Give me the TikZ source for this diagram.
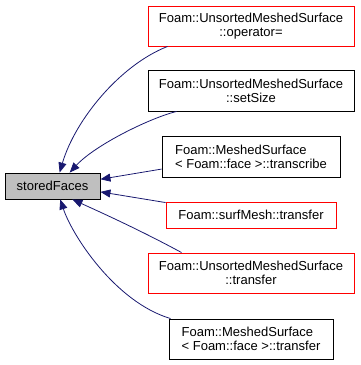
\documentclass[tikz,border=0pt]{standalone}
\usepackage{fontspec}
\setmainfont{Liberation Sans}
\usetikzlibrary{arrows.meta}
\definecolor{calledge}{HTML}{191970}
\definecolor{morered}{HTML}{FF0000}

\begin{document}
\begin{tikzpicture}[x=1pt,y=-1pt,
    fbox/.style={draw=black,line width=0.9pt,inner sep=0pt,font=\fontsize{13}{14}\selectfont},
    redbox/.style={fbox,draw=morered},
    caller/.style={draw=calledge,line width=0.8pt,-{Triangle[length=10pt,width=8pt]},fill=none}]
  \useasboundingbox (0,0) rectangle (360,365);
  \node[fbox,fill=gray!50,minimum width=95pt,minimum height=26pt] (stored) at (52.5,186) {storedFaces};
  \node[redbox,align=center,minimum width=206pt,minimum height=40pt] (op) at (251,26)
      {Foam::UnsortedMeshedSurface\\::operator=};
  \node[fbox,align=center,minimum width=206pt,minimum height=41pt] (setsize) at (251,90.5)
      {Foam::UnsortedMeshedSurface\\::setSize};
  \node[fbox,align=left,minimum width=178pt,minimum height=41pt] (transcribe) at (251,156.5)
      {Foam::MeshedSurface\\< Foam::face >::transcribe};
  \node[redbox,minimum width=170pt,minimum height=26pt] (surfmesh) at (251,215)
      {Foam::surfMesh::transfer};
  \node[redbox,align=center,minimum width=206pt,minimum height=40pt] (utransfer) at (251,273)
      {Foam::UnsortedMeshedSurface\\::transfer};
  \node[fbox,align=left,minimum width=164pt,minimum height=40pt] (mtransfer) at (251,339)
      {Foam::MeshedSurface\\< Foam::face >::transfer};

  \draw[caller] ([xshift=20]op.south west) .. controls (120,65) and (75,120) .. (stored.62);
  \draw[caller] ([xshift=29]setsize.south west) .. controls (150,118) and (95,145) .. (stored.38);
  \draw[caller] (transcribe.188) -- (stored.8);
  \draw[caller] ([yshift=-1]surfmesh.north west) -- (stored.-7);
  \draw[caller] ([xshift=34]utransfer.north west) .. controls (140,230) and (100,212) .. (stored.-34);
  \draw[caller] ([xshift=2]mtransfer.north west) .. controls (115,302) and (72,235) .. (stored.-60);
\end{tikzpicture}
\end{document}
